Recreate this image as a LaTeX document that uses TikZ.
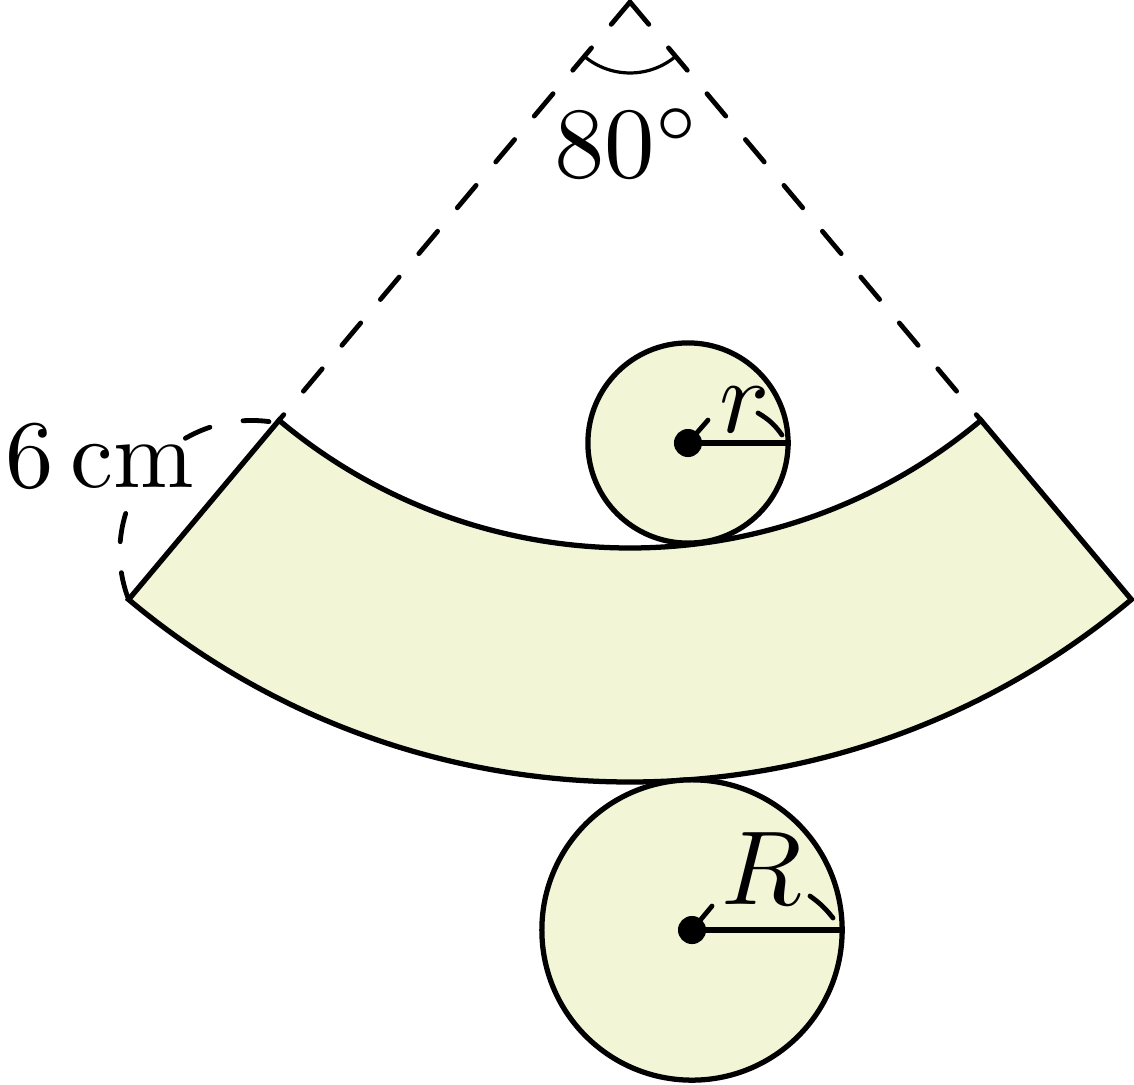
\documentclass[tikz,border=0pt]{standalone}
\usepackage{amsmath,amssymb,amsfonts}
\usetikzlibrary{positioning}
\definecolor{sectorgreen}{HTML}{F2F6D7}
\tikzset{
  outline/.style={line width=1.15pt, line join=miter},
  disc/.style={draw, circle, outline, fill=sectorgreen, inner sep=0pt},
  sidedash/.style={line width=1.05pt, line cap=round, dash pattern=on 6.4pt off 6.7pt},
  sizedash/.style={line width=1.05pt, line cap=round, dash pattern=on 6.1pt off 6.8pt on 6.3pt off 21.5pt on 5.9pt off 7.4pt on 5.7pt off 20pt},
  tick/.style={line width=1.05pt, line cap=round},
  lab/.style={anchor=base, inner sep=0pt, scale=2.3}
}
\begin{document}
\begin{tikzpicture}[scale=0.3]
\useasboundingbox (-16.154,0.051) rectangle (12.923,-27.744);

% sector
      \coordinate (O) at (0,0);
      \coordinate (IL) at (230:14);
      \coordinate (IR) at (310:14);
      \coordinate (OL) at (230:20);
      \coordinate (OR) at (310:20);
      \draw[outline, fill=sectorgreen] (IL) arc[start angle=230, end angle=310, radius=14]
        -- (OR) arc[start angle=310, end angle=230, radius=20] -- cycle;

% sides
      \draw[sidedash] (O) -- (IL);
      \draw[sidedash] (O) -- (IR);
      \draw[line width=0.7pt] (230:1.82) arc[start angle=230, end angle=310, radius=1.82];
      \draw[sizedash] (OL) arc[start angle=201, end angle=79, radius=3.38];

% small circle
      \node[disc, minimum size=1.54cm] (rdisc) at (1.487,-11.308) {};
      \coordinate (rstub) at (2.0,-10.72);
      \coordinate (rend1) at (3.282,-10.538);
      \coordinate (rend2) at (3.897,-11.103);
      \draw[outline] (rdisc.center) -- (rdisc.east);
      \draw[tick] (rdisc.center) -- (rstub);
      \draw[tick] (rend1) to[bend left=12] (rend2);
      \fill (rdisc.center) circle[radius=0.36];

% large circle
      \node[disc, minimum size=2.31cm] (Rdisc) at (1.59,-23.795) {};
      \coordinate (Rstub) at (2.103,-23.18);
      \coordinate (Rend1) at (4.615,-22.923);
      \coordinate (Rend2) at (5.205,-23.487);
      \draw[outline] (Rdisc.center) -- (Rdisc.east);
      \draw[tick] (Rdisc.center) -- (Rstub);
      \draw[tick] (Rend1) to[bend left=8] (Rend2);
      \fill (Rdisc.center) circle[radius=0.36];

% labels
      \node[lab, scale=0.96] (angle) at (-0.05,-4.51) {$80^\circ$};
      \node[lab, scale=0.92] (side) at (-13.59,-12.46) {$6\,\mathrm{cm}$};
      \node[lab] (rlab) at (2.95,-11.03) {$r$};
      \node[lab] (Rlab) at (3.385,-23.15) {$R$};

    \end{tikzpicture}
\end{document}
